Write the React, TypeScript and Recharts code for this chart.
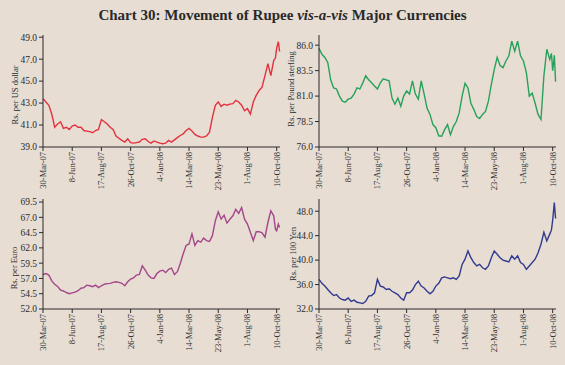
import React from 'react';
import { LineChart, Line, XAxis, YAxis } from 'recharts';

// days counted from 30-Mar-07
const days = [
  0, 7, 14, 21, 28, 35, 42, 49, 56, 63, 70, 77, 84, 91, 98, 105, 112, 119, 126, 133,
  140, 147, 154, 161, 168, 175, 182, 189, 196, 203, 210, 217, 224, 231, 238, 245, 252, 259, 266, 273,
  280, 287, 294, 301, 308, 315, 322, 329, 336, 343, 350, 357, 364, 371, 378, 385, 392, 399, 406, 413,
  420, 427, 434, 441, 448, 455, 462, 469, 476, 483, 490, 497, 504, 511, 518, 525, 532, 539, 546, 553,
  557, 560, 564, 567,
];

const usd = [
  43.4, 43.1, 42.8, 42.0, 40.8, 41.1, 41.3, 40.7, 40.8, 40.6,
  40.9, 41.0, 40.8, 40.8, 40.5, 40.45, 40.4, 40.3, 40.5, 40.6,
  41.5, 41.3, 41.1, 40.8, 40.6, 40.0, 39.8, 39.6, 39.45, 39.75,
  39.4, 39.35, 39.4, 39.45, 39.7, 39.75, 39.5, 39.35, 39.55, 39.45,
  39.35, 39.3, 39.35, 39.6, 39.45, 39.65, 39.85, 40.05, 40.2, 40.5,
  40.7, 40.45, 40.15, 40.0, 39.9, 39.9, 40.0, 40.35, 41.7, 42.8,
  43.1, 42.7, 42.9, 42.8, 42.9, 42.95, 43.25, 43.1, 42.8, 42.3,
  42.5, 42.0, 43.1, 43.7, 44.15, 44.45, 45.5, 46.6, 45.5, 46.9,
  47.1, 48.0, 48.6, 47.7,
];

const gbp = [
  85.7, 85.1, 84.8, 84.3, 82.6, 81.8, 81.7, 81.0, 80.5, 80.4,
  80.7, 80.8, 81.2, 81.8, 81.7, 82.3, 83.0, 82.6, 82.3, 82.0,
  81.7, 82.3, 82.7, 82.6, 82.5, 80.8, 80.2, 80.8, 80.0, 81.0,
  81.5, 81.2, 82.5, 81.2, 80.7, 82.5, 81.2, 79.8, 79.2, 78.2,
  77.9, 77.1, 77.05, 77.7, 78.2, 77.2, 78.0, 78.5, 79.35, 81.0,
  82.25, 81.8, 80.3, 79.7, 79.0, 78.8, 79.2, 79.5, 80.5, 82.15,
  83.6, 84.8, 84.0, 83.8, 84.45, 84.95, 86.4, 85.4, 86.4, 84.95,
  84.45, 83.3, 81.0, 81.3, 80.3, 79.2, 78.7, 83.0, 85.6, 84.6,
  85.2, 83.5, 85.0, 82.4,
];

const eur = [
  57.65, 57.8, 57.55, 56.6, 56.05, 55.7, 55.1, 54.95, 54.7, 54.5,
  54.65, 54.75, 55.0, 55.4, 55.5, 55.9, 55.8, 55.65, 55.9, 55.5,
  55.8, 56.05, 56.15, 56.2, 56.35, 56.45, 56.35, 56.2, 55.8, 56.45,
  56.9, 57.1, 57.55, 57.65, 59.05, 58.35, 57.55, 57.1, 57.0, 57.8,
  58.2, 58.35, 57.95, 58.5, 58.7, 57.65, 58.1, 59.45, 61.05, 62.4,
  62.65, 64.3, 62.4, 63.2, 62.95, 63.6, 63.2, 63.05, 64.0, 66.45,
  67.9, 66.7, 67.35, 66.05, 66.7, 67.25, 68.3, 67.65, 68.6, 66.7,
  65.9, 64.55, 63.2, 64.65, 64.65, 64.45, 63.75, 66.15, 68.05, 67.25,
  65.1, 64.8, 65.9, 65.35,
];

const jpy = [
  36.85, 36.2, 35.75, 35.2, 34.65, 34.2, 34.35, 33.8, 33.55, 33.45,
  33.8, 33.25, 33.45, 33.1, 33.0, 32.9, 33.25, 34.1, 34.2, 34.65,
  36.85, 35.75, 35.6, 35.2, 35.3, 34.9, 34.65, 34.35, 33.8, 33.45,
  34.65, 34.65, 35.1, 36.0, 36.55, 35.75, 35.45, 34.9, 34.5, 34.9,
  35.75, 36.2, 37.1, 37.25, 37.1, 36.95, 37.1, 36.85, 37.4, 39.3,
  40.15, 41.5, 40.4, 39.6, 39.05, 39.3, 38.75, 38.5, 39.05, 40.4,
  41.5, 40.95, 40.4, 40.0, 39.85, 39.7, 40.7, 40.15, 40.7, 39.6,
  39.3, 38.5, 39.05, 39.6, 40.15, 41.2, 42.6, 44.55, 43.15, 44.25,
  44.9, 46.5, 49.4, 46.8,
];

const tickDays = [0, 70, 140, 210, 280, 350, 420, 490, 560];
const tickLabels = ['30-Mar-07', '8-Jun-07', '17-Aug-07', '26-Oct-07', '4-Jan-08', '14-Mar-08', '23-May-08', '1-Aug-08', '10-Oct-08'];

const usdTicks = [39, 41, 43, 45, 47, 49];
const gbpTicks = [76, 78.5, 81, 83.5, 86];
const eurTicks = [52, 54.5, 57, 59.5, 62, 64.5, 67, 69.5];
const jpyTicks = [32, 36, 40, 44, 48];

const data = days.map((d, i) => ({ d, usd: usd[i], gbp: gbp[i], eur: eur[i], jpy: jpy[i] }));

const FONT = '"Liberation Serif", "Times New Roman", serif';
const INK = '#2b2b2b';

const DateTick = (props: any) => {
  const { x, y, payload } = props;
  const idx = tickDays.indexOf(payload.value);
  const yy = y + 1;
  return (
    <text
      x={x}
      y={yy}
      transform={`rotate(-90 ${x} ${yy})`}
      textAnchor="end"
      dy="0.35em"
      fontSize={8.5}
      fontFamily={FONT}
      fill={INK}
    >
      {idx >= 0 ? tickLabels[idx] : ''}
    </text>
  );
};

const YTitle = (props: any) => {
  const { text, tx, ty } = props;
  return (
    <text
      x={tx}
      y={ty}
      transform={`rotate(-90 ${tx} ${ty})`}
      textAnchor="middle"
      dy="0.35em"
      fontSize={8.5}
      fontFamily={FONT}
      fill={INK}
    >
      {text}
    </text>
  );
};

interface PanelProps {
  dataKey: string;
  color: string;
  domain: [number, number];
  ticks: number[];
  title: string;
  tx: number;
  ty: number;
  left: number;
  top: number;
  height: number;
  margin: { top: number; right: number; bottom: number; left: number };
  yWidth: number;
}

const Panel = ({ dataKey, color, domain, ticks, title, tx, ty, left, top, height, margin, yWidth }: PanelProps) => (
  <div style={{ position: 'absolute', left, top }}>
    <LineChart width={285} height={height} data={data} margin={margin}>
      <XAxis
        dataKey="d"
        type="number"
        domain={[0, 568]}
        ticks={tickDays}
        interval={0}
        tick={<DateTick />}
        tickSize={4}
        tickMargin={0}
        height={40}
        stroke={INK}
        axisLine={{ stroke: INK }}
        tickLine={{ stroke: INK }}
      />
      <YAxis
        type="number"
        domain={domain}
        ticks={ticks}
        interval={0}
        allowDataOverflow
        width={yWidth}
        tickSize={4}
        tickMargin={2}
        tickFormatter={(v: number) => v.toFixed(1)}
        tick={{ fontSize: 9.5, fontFamily: FONT, fill: INK }}
        stroke={INK}
        label={<YTitle text={title} tx={tx} ty={ty} />}
      />
      <Line
        type="linear"
        dataKey={dataKey}
        stroke={color}
        strokeWidth={1.4}
        dot={false}
        isAnimationActive={false}
      />
    </LineChart>
  </div>
);

export default function App() {
  return (
    <div
      style={{
        position: 'absolute',
        left: 0,
        top: 0,
        width: 565,
        height: 365,
        background: '#e7ddd3',
        overflow: 'hidden',
        fontFamily: FONT,
      }}
    >
      <div
        style={{
          position: 'absolute',
          top: 5,
          left: 0,
          width: 565,
          textAlign: 'center',
          fontSize: 15,
          fontWeight: 'bold',
          color: '#2a2a2a',
          lineHeight: '20px',
        }}
      >
        Chart 30: Movement of Rupee <i>vis-a-vis</i> Major Currencies
      </div>

      <Panel
        dataKey="usd"
        color="#e4313e"
        domain={[39, 49.2]}
        ticks={usdTicks}
        title="Rs. per US dollar"
        tx={15}
        ty={70}
        left={0}
        top={25}
        height={165}
        margin={{ top: 10, right: 5, bottom: 3, left: 5 }}
        yWidth={38}
      />
      <Panel
        dataKey="gbp"
        color="#27a25a"
        domain={[76, 87]}
        ticks={gbpTicks}
        title="Rs. per Pound sterling"
        tx={11}
        ty={64}
        left={280}
        top={25}
        height={165}
        margin={{ top: 10, right: 9, bottom: 3, left: 5 }}
        yWidth={34}
      />
      <Panel
        dataKey="eur"
        color="#a4468a"
        domain={[52, 70]}
        ticks={eurTicks}
        title="Rs. per Euro"
        tx={14}
        ty={78}
        left={0}
        top={190}
        height={175}
        margin={{ top: 9, right: 5, bottom: 16, left: 5 }}
        yWidth={38}
      />
      <Panel
        dataKey="jpy"
        color="#323a8f"
        domain={[32, 50]}
        ticks={jpyTicks}
        title="Rs. per 100 Yen"
        tx={13}
        ty={64}
        left={280}
        top={190}
        height={175}
        margin={{ top: 9, right: 9, bottom: 16, left: 5 }}
        yWidth={34}
      />
    </div>
  );
}
